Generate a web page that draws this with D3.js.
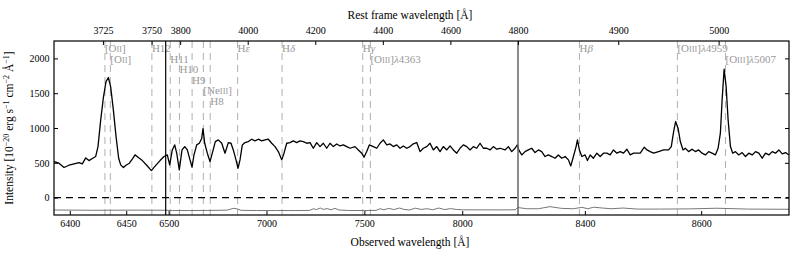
<!DOCTYPE html>
<html>
<head>
<meta charset="utf-8">
<script src="https://cdn.jsdelivr.net/npm/d3@7/dist/d3.min.js"></script>
<style>
  body { margin: 0; background: #fff; }
  text { font-family: "Liberation Serif", "DejaVu Serif", serif; }
</style>
</head>
<body>
<div id="my_dataviz"></div>
<script>
// observed wavelength [A] of the spectrum
var wave = [6386.0, 6390.4, 6394.9, 6399.3, 6403.7, 6408.2, 6411.1, 6414.1, 6417.0, 6420.0, 6422.9, 6425.0, 6427.4, 6429.7, 6432.1, 6434.2, 6436.2, 6438.6, 6441.0, 6443.3, 6445.1, 6447.5, 6449.8, 6452.8, 6455.7, 6457.8, 6460.5, 6464.3, 6468.2, 6472.3, 6475.8, 6480.0, 6483.5,
  6493.2, 6505.4, 6518.7, 6531.0, 6541.2, 6554.5, 6568.3, 6582.1, 6595.4, 6609.2, 6619.4, 6629.6, 6643.4, 6656.7, 6669.0, 6675.6, 6684.3, 6697.6, 6711.4, 6725.2, 6738.5, 6753.8, 6771.2, 6788.0, 6804.9, 6818.7, 6830.4, 6844.2, 6854.5, 6864.7, 6876.4, 6890.2, 6907.1, 6924.5, 6941.3, 6958.2, 6975.6, 6992.4,
  7009.3, 7026.7, 7043.5, 7060.4, 7077.8, 7089.5, 7103.3, 7120.2, 7137.0, 7154.4, 7171.3, 7188.1, 7205.5, 7222.4, 7239.2, 7256.6, 7273.5, 7290.3, 7307.7, 7324.6, 7341.4, 7358.8, 7375.7, 7392.5, 7409.9, 7426.8, 7452.3, 7469.2, 7486.6, 7498.3,
  7512.1, 7525.4, 7545.8, 7563.2, 7580.1, 7596.9, 7614.3, 7631.2, 7648.0, 7665.4, 7682.3, 7699.1, 7716.5, 7733.4, 7750.2, 7767.6, 7784.5, 7801.3, 7818.7, 7835.6, 7852.4, 7869.8, 7886.7, 7903.5, 7920.9, 7937.8, 7954.6, 7972.0, 7988.9,
  8005.7, 8023.1, 8040.0, 8056.8, 8074.2, 8091.1, 8107.9, 8125.3, 8142.2, 8159.0, 8176.4, 8193.3, 8218.8, 8235.6, 8253.0, 8269.9, 8281.6,
  8286.2, 8291.4, 8297.1, 8302.7, 8308.6, 8314.3, 8320.0, 8325.8, 8331.5, 8337.2, 8343.1, 8348.8, 8354.4, 8360.3, 8366.0, 8371.7, 8375.8, 8380.3, 8384.9, 8387.2, 8390.6, 8394.8,
  8400.4, 8404.4, 8409.1, 8414.7, 8420.6, 8426.3, 8432.0, 8437.8, 8443.5, 8449.2, 8455.1, 8460.7, 8466.4, 8472.3, 8478.0, 8483.7, 8489.5, 8495.2,
  8502.1, 8506.8, 8512.4, 8518.1, 8526.7, 8535.4, 8544.0, 8548.6, 8552.6, 8556.0, 8560.2, 8564.1, 8568.8, 8572.7, 8578.4, 8584.3, 8590.0, 8595.6,
  8601.5, 8607.2, 8612.9, 8618.7, 8624.4, 8629.1, 8633.0, 8636.0, 8639.4, 8642.9, 8646.3, 8650.3, 8654.2, 8658.9, 8664.6, 8670.4, 8676.1, 8681.8, 8687.7, 8693.4, 8699.1,
  8704.9, 8710.6, 8716.3, 8722.2, 8727.8, 8733.5, 8739.4, 8745.1, 8750.8];
// intensity [1e-20 erg/s/cm2/A]
var flux = [518, 494, 432, 465, 484, 503, 484, 570, 532, 561, 590, 733, 1117, 1428, 1667, 1725, 1595, 1260, 877, 566, 470, 432, 465, 494, 561, 614, 580, 532, 465, 388, 455, 532, 590,
  614, 470, 685, 757, 638, 398, 685, 733, 685, 542, 437, 614, 757, 781, 850, 990, 781, 638, 518, 661, 805, 829, 781, 638, 790, 781, 685, 542, 422, 542, 757, 790, 805, 839, 815, 839, 815, 829,
  839, 781, 733, 661, 542, 638, 781, 790, 815, 790, 815, 805, 781, 790, 709, 790, 733, 781, 709, 781, 733, 771, 742, 757, 733, 709, 733, 685, 638, 580,
  661, 757, 733, 709, 781, 829, 757, 771, 733, 757, 709, 742, 709, 733, 772, 791, 661, 709, 733, 781, 685, 733, 661, 733, 685, 743, 685, 638, 709,
  757, 733, 685, 733, 709, 781, 709, 709, 685, 733, 695, 709, 685, 733, 661, 709, 757,
  685, 613, 661, 685, 709, 647, 685, 661, 590, 613, 590, 566, 613, 566, 590, 542, 455, 590, 733, 829, 685, 590,
  613, 532, 613, 566, 638, 590, 638, 638, 613, 685, 638, 661, 638, 695, 613, 638, 638, 638,
  724, 685, 661, 638, 661, 685, 685, 733, 949, 1093, 997, 805, 685, 709, 661, 695, 661, 685,
  638, 613, 661, 638, 613, 709, 925, 1404, 1845, 1595, 1117, 733, 638, 661, 613, 647, 590, 638, 613, 661, 638,
  566, 638, 613, 661, 638, 685, 629, 647, 613];

// error spectrum
var errWave = [6386, 6420, 6460, 6485, 6520, 6600, 6700, 6800, 6830, 6845, 6870, 6950, 7050, 7150, 7220, 7240,
  7255, 7275, 7290, 7310, 7330, 7350, 7370, 7420, 7500, 7560, 7580, 7600, 7625, 7650, 7680, 7700,
  7730, 7760, 7790, 7820, 7850, 7880, 7910, 7940, 7970, 8000, 8050, 8120, 8200, 8270, 8285, 8300,
  8320, 8340, 8360, 8380, 8395, 8405, 8415, 8430, 8445, 8466, 8490, 8530, 8580, 8627, 8680, 8751];
var errFlux = [-178, -182, -180, -182, -186, -186, -185, -180, -155, -158, -183, -186, -186, -186, -184, -160,
  -172, -150, -170, -158, -175, -155, -178, -185, -186, -184, -160, -175, -155, -172, -150, -168,
  -178, -152, -170, -160, -175, -150, -172, -158, -170, -175, -176, -176, -177, -175, -143, -160,
  -160, -130, -155, -160, -140, -160, -138, -150, -160, -150, -165, -165, -162, -153, -165, -168];

// marked lines (rest frame)
var lineNames = ["[O{II}]", "[O{II}]", "H12", "H11", "H10", "H9", "[Ne{III}]", "H8", "H\u03b5", "H\u03b4",
  "H\u03b3", "[O{III}]\u03bb4363", "H\u03b2", "[O{III}]\u03bb4959", "[O{III}]\u03bb5007"];
var lineRest = [3726.03, 3728.82, 3750.15, 3770.63, 3797.90, 3835.39, 3868.76, 3889.05, 3970.07, 4101.74,
  4340.47, 4363.21, 4861.33, 4958.91, 5006.84];
var redshift = 0.726;

// the three x ranges (observed) and their ticks
var panelLo = [6386, 6485, 8285],
    panelHi = [6485, 8285, 8751];
var bottomTicks = [[6400, 6450], [6500, 7000, 7500, 8000], [8400, 8600]];
var topTicks = [[3725, 3750], [3800, 4000, 4200, 4400, 4600, 4800], [4900, 5000]];
var yTicks = [0, 500, 1000, 1500, 2000];

// set the dimensions and margins of the graph
var margin = {top: 41, right: 8, bottom: 41, left: 54},
    width = 797 - margin.left - margin.right,
    height = 256 - margin.top - margin.bottom,
    breaks = [0, 111.7, 464, width];

var labelRow = [0, 1, 0, 1, 2, 3, 4, 5, 0, 0, 0, 1, 0, 0, 1];

var svg = d3.select("#my_dataviz")
  .append("svg")
    .attr("width", width + margin.left + margin.right)
    .attr("height", height + margin.top + margin.bottom)
  .append("g")
    .attr("transform", "translate(" + margin.left + "," + margin.top + ")");

var xs = panelLo.map(function(lo, i) {
  return d3.scaleLinear().domain([lo, panelHi[i]]).range([breaks[i], breaks[i + 1]]);
});
var xsRest = panelLo.map(function(lo, i) {
  return d3.scaleLinear().domain([lo / (1 + redshift), panelHi[i] / (1 + redshift)]).range([breaks[i], breaks[i + 1]]);
});
function x(w) {
  var i = w < panelLo[1] ? 0 : (w < panelLo[2] ? 1 : 2);
  return xs[i](w);
}
var y = d3.scaleLinear().domain([-250, 2250]).range([height, 0]);

// label text with small caps in {} and italic greek
function richText(sel, str) {
  var re = /\{([^}]*)\}|([\u03b2\u03b3\u03b4\u03b5\u03bb])|([^{\u03b2\u03b3\u03b4\u03b5\u03bb]+)/g, m;
  while ((m = re.exec(str))) {
    if (m[1]) sel.append("tspan").attr("font-size", "0.76em").text(m[1]);
    else if (m[2]) sel.append("tspan").attr("font-style", "italic").text(m[2]);
    else sel.append("tspan").text(m[3]);
  }
}

// emission line markers
lineRest.forEach(function(r, i) {
  var lx = x(r * (1 + redshift));
  svg.append("line")
    .attr("x1", lx).attr("x2", lx)
    .attr("y1", 0).attr("y2", height)
    .attr("stroke", "#b0b0b0")
    .attr("stroke-width", 1)
    .attr("stroke-dasharray", "7,5");
  var t = svg.append("text")
    .attr("x", lx)
    .attr("y", 11 + labelRow[i] * 10.6)
    .attr("font-size", "11px")
    .attr("fill", "#999");
  richText(t, lineNames[i]);
});

// zero level
svg.append("line")
  .attr("x1", 0).attr("x2", width)
  .attr("y1", y(0)).attr("y2", y(0))
  .attr("stroke", "black")
  .attr("stroke-width", 1.2)
  .attr("stroke-dasharray", "7,5");

var line = d3.line()
  .x(function(d) { return x(d[0]); })
  .y(function(d) { return y(d[1]); });

// error spectrum
svg.append("path")
  .datum(d3.zip(errWave, errFlux))
  .attr("fill", "none")
  .attr("stroke", "#777")
  .attr("stroke-width", 1)
  .attr("d", line);

// spectrum
svg.append("path")
  .datum(d3.zip(wave, flux))
  .attr("fill", "none")
  .attr("stroke", "black")
  .attr("stroke-width", 1.3)
  .attr("stroke-linejoin", "round")
  .attr("d", line);

// panel breaks
svg.append("line")
  .attr("x1", breaks[1]).attr("x2", breaks[1])
  .attr("y1", 0).attr("y2", height)
  .attr("stroke", "black").attr("stroke-width", 1.2);
svg.append("line")
  .attr("x1", breaks[2]).attr("x2", breaks[2])
  .attr("y1", 0).attr("y2", height)
  .attr("stroke", "#666").attr("stroke-width", 1.5);

// axes
function styleAxis(g) {
  g.select(".domain").remove();
  g.attr("font-family", "Liberation Serif, serif").attr("font-size", 10);
}
xs.forEach(function(s, i) {
  svg.append("g")
    .attr("transform", "translate(0," + height + ")")
    .call(d3.axisBottom(s).tickValues(bottomTicks[i]).tickFormat(d3.format("d")).tickSize(-4).tickPadding(4.5))
    .call(styleAxis);
  svg.append("g")
    .call(d3.axisTop(xsRest[i]).tickValues(topTicks[i]).tickFormat(d3.format("d")).tickSize(-4).tickPadding(7.5))
    .call(styleAxis);
});
svg.append("g")
  .call(d3.axisLeft(y).tickValues(yTicks).tickFormat(d3.format("d")).tickSize(-4).tickPadding(4.5))
  .call(styleAxis);
svg.append("g")
  .attr("transform", "translate(" + width + ",0)")
  .call(d3.axisRight(y).tickValues(yTicks).tickFormat("").tickSize(-4))
  .call(styleAxis);

// frame
svg.append("rect")
  .attr("width", width).attr("height", height)
  .attr("fill", "none")
  .attr("stroke", "black")
  .attr("stroke-width", 1.2);

// axis titles
svg.append("text")
  .attr("x", 356).attr("y", -22)
  .attr("text-anchor", "middle")
  .attr("font-size", "11.5px")
  .text("Rest frame wavelength [\u00c5]");
svg.append("text")
  .attr("x", 356).attr("y", height + 31)
  .attr("text-anchor", "middle")
  .attr("font-size", "11.5px")
  .text("Observed wavelength [\u00c5]");

var ylab = svg.append("text")
  .attr("transform", "translate(" + (13 - margin.left) + "," + (height / 2) + ")rotate(-90)")
  .attr("text-anchor", "middle")
  .attr("font-size", "11.5px");
[["Intensity [10", 0], ["\u221220", 1], [" erg s", 0], ["\u22121", 1], [" cm", 0], ["\u22122", 1], [" \u00c5", 0], ["\u22121", 1], ["]", 0]]
  .forEach(function(p, i, arr) {
    var ts = ylab.append("tspan").text(p[0]);
    if (p[1]) ts.attr("font-size", "0.7em").attr("dy", -4.5);
    else if (i > 0 && arr[i - 1][1]) ts.attr("dy", 4.5);
  });
</script>
</body>
</html>
